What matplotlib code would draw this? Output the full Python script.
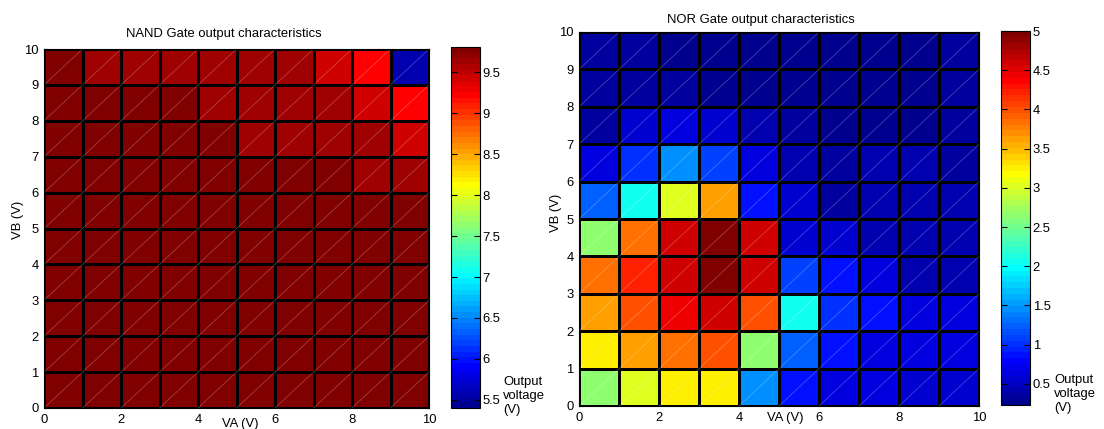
import numpy as np
import matplotlib
matplotlib.use("Agg")
import matplotlib.pyplot as plt
from matplotlib.colors import Normalize, ListedColormap
from matplotlib.ticker import FormatStrFormatter

plt.rcParams['font.family'] = ['Liberation Sans', 'DejaVu Sans']
plt.rcParams['font.size'] = 9.4

# input sweep (V): cell edges for VA and VB
va_edges = np.arange(0, 11)
vb_edges = np.arange(0, 11)

# NAND output (V); rows are VB = 0..9, columns VA = 0..9
nand_out = np.array([
    [9.78, 9.78, 9.78, 9.78, 9.78, 9.78, 9.78, 9.78, 9.78, 9.78],
    [9.78, 9.78, 9.78, 9.78, 9.78, 9.78, 9.78, 9.78, 9.78, 9.78],
    [9.78, 9.78, 9.78, 9.78, 9.78, 9.78, 9.78, 9.78, 9.78, 9.78],
    [9.78, 9.78, 9.78, 9.78, 9.78, 9.78, 9.78, 9.78, 9.78, 9.78],
    [9.78, 9.78, 9.78, 9.78, 9.78, 9.78, 9.78, 9.78, 9.78, 9.78],
    [9.78, 9.78, 9.78, 9.78, 9.78, 9.78, 9.78, 9.78, 9.78, 9.78],
    [9.78, 9.78, 9.78, 9.78, 9.78, 9.78, 9.78, 9.78, 9.64, 9.64],
    [9.78, 9.78, 9.78, 9.78, 9.78, 9.64, 9.64, 9.64, 9.64, 9.43],
    [9.78, 9.78, 9.78, 9.78, 9.64, 9.64, 9.64, 9.64, 9.43, 9.23],
    [9.78, 9.64, 9.64, 9.64, 9.64, 9.64, 9.64, 9.43, 9.23, 5.57],
])

# NOR output (V); rows are VB = 0..9, columns VA = 0..9
nor_out = np.array([
    [2.65, 3.03, 3.25, 3.25, 1.46, 0.86, 0.67, 0.67, 0.53, 0.60],
    [3.25, 3.62, 3.85, 4.00, 2.65, 1.24, 0.86, 0.67, 0.67, 0.62],
    [3.62, 4.00, 4.44, 4.59, 4.00, 2.06, 1.01, 0.86, 0.67, 0.67],
    [3.85, 4.22, 4.59, 4.96, 4.59, 1.09, 0.86, 0.67, 0.45, 0.39],
    [2.65, 3.85, 4.59, 4.96, 4.59, 0.60, 0.53, 0.39, 0.39, 0.39],
    [1.24, 2.06, 3.03, 3.62, 0.86, 0.60, 0.33, 0.39, 0.39, 0.39],
    [0.63, 1.01, 1.46, 1.09, 0.67, 0.39, 0.33, 0.39, 0.41, 0.31],
    [0.31, 0.60, 0.67, 0.60, 0.39, 0.33, 0.25, 0.23, 0.27, 0.31],
    [0.31, 0.31, 0.35, 0.25, 0.23, 0.23, 0.25, 0.23, 0.28, 0.31],
    [0.35, 0.35, 0.27, 0.23, 0.23, 0.23, 0.28, 0.25, 0.28, 0.31],
])

nand_range = (5.40, 9.81)
nor_range = (0.23, 5.0)
nand_cticks = [5.5, 6, 6.5, 7, 7.5, 8, 8.5, 9, 9.5]
nor_cticks = [0.5, 1, 1.5, 2, 2.5, 3, 3.5, 4, 4.5, 5]


def matlab_jet(n=64):
    # same construction as MATLAB's jet(n)
    m = int(np.ceil(n / 4))
    u = np.concatenate([np.arange(1, m + 1) / m, np.ones(m - 1),
                        np.arange(m, 0, -1) / m])
    g = int(np.ceil(m / 2)) - (n % 4 == 1) + np.arange(1, len(u) + 1)
    r = g + m
    b = g - m
    g = g[g <= n]
    r = r[r <= n]
    b = b[b >= 1]
    J = np.zeros((n, 3))
    J[r - 1, 0] = u[:len(r)]
    J[g - 1, 1] = u[:len(g)]
    J[b - 1, 2] = u[len(u) - len(b):]
    return ListedColormap(J)


jet = matlab_jet(64)

W, H = 1104, 429
fig = plt.figure(figsize=(W / 100, H / 100), dpi=100)


def box(l, t, r, b):
    # pixel box (left, top, right, bottom) -> figure fraction rect
    return [l / W, 1 - b / H, (r - l) / W, (b - t) / H]


def draw_panel(ax_box, cax_box, data, vrange, cticks, title, title_px,
               xlab_pos, ylab_pos, unit_px):
    ax = fig.add_axes(box(*ax_box))
    cax = fig.add_axes(box(*cax_box))
    norm = Normalize(*vrange)
    mesh = ax.pcolormesh(va_edges, vb_edges, data, cmap=jet, norm=norm,
                         edgecolors='k', linewidth=0.8)
    # faint diagonal seams through every cell
    for k in range(-9, 10):
        ax.plot([0, 10], [k, 10 + k], color='white', lw=0.5, alpha=0.3)
    ax.set_xlim(0, 10)
    ax.set_ylim(0, 10)
    ax.set_xticks(range(0, 11, 2))
    ax.set_yticks(range(0, 11))
    ax.tick_params(direction='in', length=3, top=True, right=True, pad=4,
                   width=0.8)
    for s in ax.spines.values():
        s.set_linewidth(0.8)
    ax.set_xlabel('VA (V)', va='center')
    ax.xaxis.set_label_coords(*xlab_pos)
    ax.set_ylabel('VB (V)', va='center')
    ax.yaxis.set_label_coords(*ylab_pos)
    fig.text(title_px[0] / W, 1 - title_px[1] / H, title,
             ha='center', va='center')

    cb = fig.colorbar(mesh, cax=cax, ticks=cticks)
    cb.ax.tick_params(direction='in', left=True, right=True, length=4,
                      pad=2, width=0.8)
    cb.ax.yaxis.set_major_formatter(FormatStrFormatter('%g'))
    cb.outline.set_linewidth(0.8)
    fig.text(unit_px[0] / W, 1 - unit_px[1] / H, 'Output\nvoltage\n(V)',
             ha='left', va='top', linespacing=1.2)


draw_panel((44, 49, 429, 408), (451, 47, 480, 408), nand_out, nand_range,
           nand_cticks, 'NAND Gate output characteristics', (224, 34),
           (0.509, -0.045), (-0.068, 0.524), (503, 376))

draw_panel((579, 32, 979, 406), (1001, 31, 1030, 405), nor_out, nor_range,
           nor_cticks, 'NOR Gate output characteristics', (761, 20),
           (0.515, -0.032), (-0.0575, 0.516), (1054, 374))

fig.savefig('out.png', dpi=100)
